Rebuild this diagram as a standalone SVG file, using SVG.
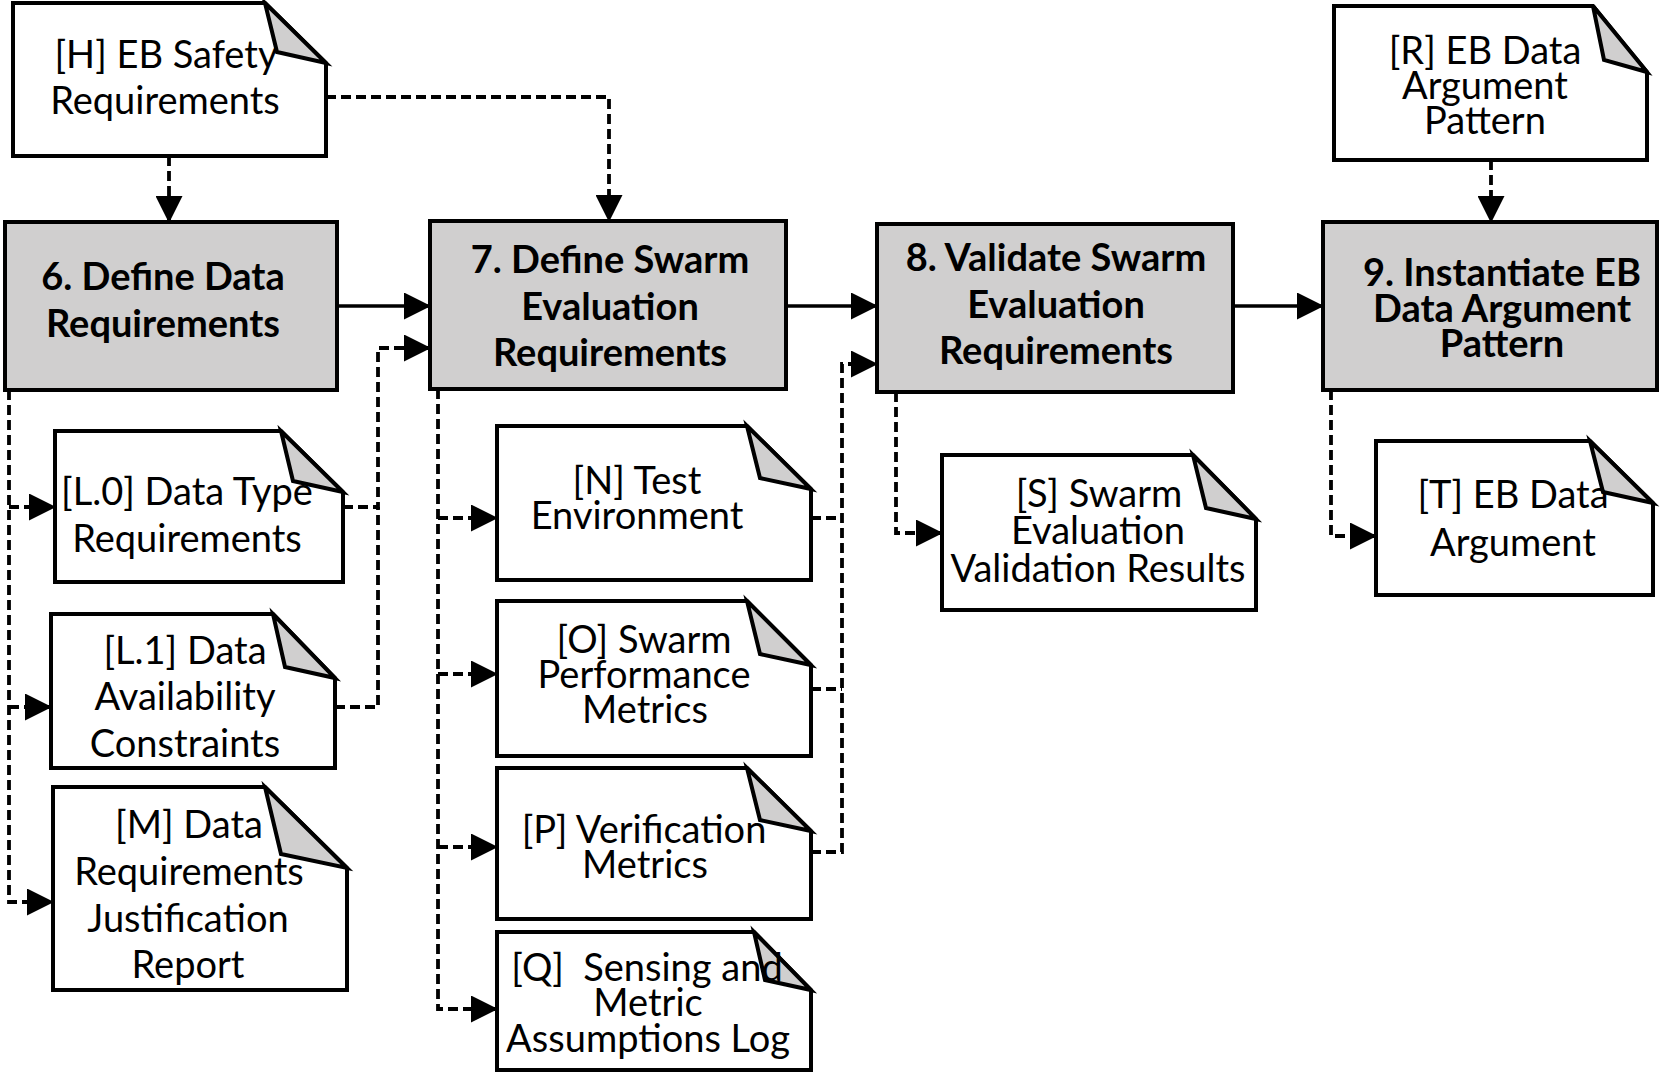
<svg xmlns="http://www.w3.org/2000/svg" width="1660" height="1076" viewBox="0 0 1660 1076">
<style>
.box{fill:#d0cfcf;stroke:#000;stroke-width:4}
.doc{fill:#fff;stroke:#000;stroke-width:4;stroke-linejoin:miter}
.fold{fill:#d0cfcf;stroke:#000;stroke-width:4;stroke-linejoin:miter}
.t{font-family:"Lato","Liberation Sans",sans-serif;font-size:38px;text-anchor:middle;fill:#000}
.b{font-family:"Lato","Liberation Sans",sans-serif;font-size:38px;font-weight:bold;text-anchor:middle;fill:#000}
.c{fill:none;stroke:#000;stroke-width:3.6}
.d{fill:none;stroke:#000;stroke-width:3.8;stroke-dasharray:10,5}
</style>
<defs>
<marker id="ah" viewBox="0 0 27 27" refX="26" refY="13.5" markerWidth="27" markerHeight="27" markerUnits="userSpaceOnUse" orient="auto">
<path d="M0,0 L27,13.5 L0,27 Z" fill="#000"/>
</marker>
</defs>

<g id="connectors">
<path class="d" d="M169,156 V222" marker-end="url(#ah)"/>
<path class="d" d="M326,97 H609 V221" marker-end="url(#ah)"/>
<path class="c" d="M337,306 H430" marker-end="url(#ah)"/>
<path class="c" d="M786,306 H877" marker-end="url(#ah)"/>
<path class="c" d="M1233,306 H1323" marker-end="url(#ah)"/>
<path class="d" d="M1491,160 V222" marker-end="url(#ah)"/>
<path class="d" d="M9,390 V902 H53" marker-end="url(#ah)"/>
<path class="d" d="M9,507 H55" marker-end="url(#ah)"/>
<path class="d" d="M9,707 H51" marker-end="url(#ah)"/>
<path class="d" d="M343,507 H378 V348 H430" marker-end="url(#ah)"/>
<path class="d" d="M335,707 H378 V507"/>
<path class="d" d="M438,389 V1009 H497" marker-end="url(#ah)"/>
<path class="d" d="M438,518 H497" marker-end="url(#ah)"/>
<path class="d" d="M438,674 H497" marker-end="url(#ah)"/>
<path class="d" d="M438,847 H497" marker-end="url(#ah)"/>
<path class="d" d="M811,852 H842 V364 H877" marker-end="url(#ah)"/>
<path class="d" d="M811,518 H842"/>
<path class="d" d="M811,689 H842"/>
<path class="d" d="M896,392 V533 H942" marker-end="url(#ah)"/>
<path class="d" d="M1331,390 V536 H1376" marker-end="url(#ah)"/>
</g>

<g id="step6">
<rect class="box" x="5" y="222" width="332" height="168"/>
<text class="b" x="163" y="290">6. Define Data</text>
<text class="b" x="163" y="337">Requirements</text>
</g>
<g id="step7">
<rect class="box" x="430" y="221" width="356" height="168"/>
<text class="b" x="610" y="273">7. Define Swarm</text>
<text class="b" x="610" y="320">Evaluation</text>
<text class="b" x="610" y="366">Requirements</text>
</g>
<g id="step8">
<rect class="box" x="877" y="224" width="356" height="168"/>
<text class="b" x="1056" y="271">8. Validate Swarm</text>
<text class="b" x="1056" y="318">Evaluation</text>
<text class="b" x="1056" y="364">Requirements</text>
</g>
<g id="step9">
<rect class="box" x="1323" y="222" width="334" height="168"/>
<text class="b" x="1502" y="286">9. Instantiate EB</text>
<text class="b" x="1502" y="322">Data Argument</text>
<text class="b" x="1502" y="357">Pattern</text>
</g>

<g id="docH">
<path class="doc" d="M13,3 H265 L326,63 V156 H13 Z"/>
<path class="fold" d="M265,3 L277,52 L326,63 Z"/>
<text class="t" x="166" y="68">[H] EB Safety</text>
<text class="t" x="165" y="114">Requirements</text>
</g>
<g id="docR">
<path class="doc" d="M1334,6 H1593 L1647,72 V160 H1334 Z"/>
<path class="fold" d="M1593,6 L1604,60 L1647,72 Z"/>
<text class="t" x="1485" y="64">[R] EB Data</text>
<text class="t" x="1485" y="99">Argument</text>
<text class="t" x="1485" y="134">Pattern</text>
</g>
<g id="docL0">
<path class="doc" d="M55,431 H281 L343,492 V582 H55 Z"/>
<path class="fold" d="M281,431 L293,481 L343,492 Z"/>
<text class="t" x="187" y="505">[L.0] Data Type</text>
<text class="t" x="187" y="552">Requirements</text>
</g>
<g id="docL1">
<path class="doc" d="M51,614 H273 L335,678 V768 H51 Z"/>
<path class="fold" d="M273,614 L285,667 L335,678 Z"/>
<text class="t" x="185" y="664">[L.1] Data</text>
<text class="t" x="185" y="710">Availability</text>
<text class="t" x="185" y="757">Constraints</text>
</g>
<g id="docM">
<path class="doc" d="M53,787 H265 L347,868 V990 H53 Z"/>
<path class="fold" d="M265,787 L281,854 L347,868 Z"/>
<text class="t" x="189" y="838">[M] Data</text>
<text class="t" x="189" y="885">Requirements</text>
<text class="t" x="188" y="932">Justification</text>
<text class="t" x="188" y="978">Report</text>
</g>
<g id="docN">
<path class="doc" d="M497,426 H747 L811,489 V580 H497 Z"/>
<path class="fold" d="M747,426 L760,478 L811,489 Z"/>
<text class="t" x="637" y="494">[N] Test</text>
<text class="t" x="637" y="529">Environment</text>
</g>
<g id="docO">
<path class="doc" d="M497,601 H747 L811,665 V756 H497 Z"/>
<path class="fold" d="M747,601 L760,654 L811,665 Z"/>
<text class="t" x="644" y="653">[O] Swarm</text>
<text class="t" x="644" y="688">Performance</text>
<text class="t" x="645" y="723">Metrics</text>
</g>
<g id="docP">
<path class="doc" d="M497,768 H747 L811,831 V919 H497 Z"/>
<path class="fold" d="M747,768 L760,820 L811,831 Z"/>
<text class="t" x="644" y="843">[P] Verification</text>
<text class="t" x="645" y="878">Metrics</text>
</g>
<g id="docQ">
<path class="doc" d="M497,932 H754 L811,990 V1070 H497 Z"/>
<path class="fold" d="M754,932 L765,980 L811,990 Z"/>
<text class="t" x="647" y="981" xml:space="preserve">[Q]  Sensing and</text>
<text class="t" x="648" y="1016">Metric</text>
<text class="t" x="648" y="1052">Assumptions Log</text>
</g>
<g id="docS">
<path class="doc" d="M942,455 H1193 L1256,519 V610 H942 Z"/>
<path class="fold" d="M1193,455 L1206,508 L1256,519 Z"/>
<text class="t" x="1099" y="507">[S] Swarm</text>
<text class="t" x="1098" y="544">Evaluation</text>
<text class="t" x="1098" y="582">Validation Results</text>
</g>
<g id="docT">
<path class="doc" d="M1376,441 H1590 L1653,503 V595 H1376 Z"/>
<path class="fold" d="M1590,441 L1603,492 L1653,503 Z"/>
<text class="t" x="1513" y="508">[T] EB Data</text>
<text class="t" x="1513" y="556">Argument</text>
</g>
</svg>
